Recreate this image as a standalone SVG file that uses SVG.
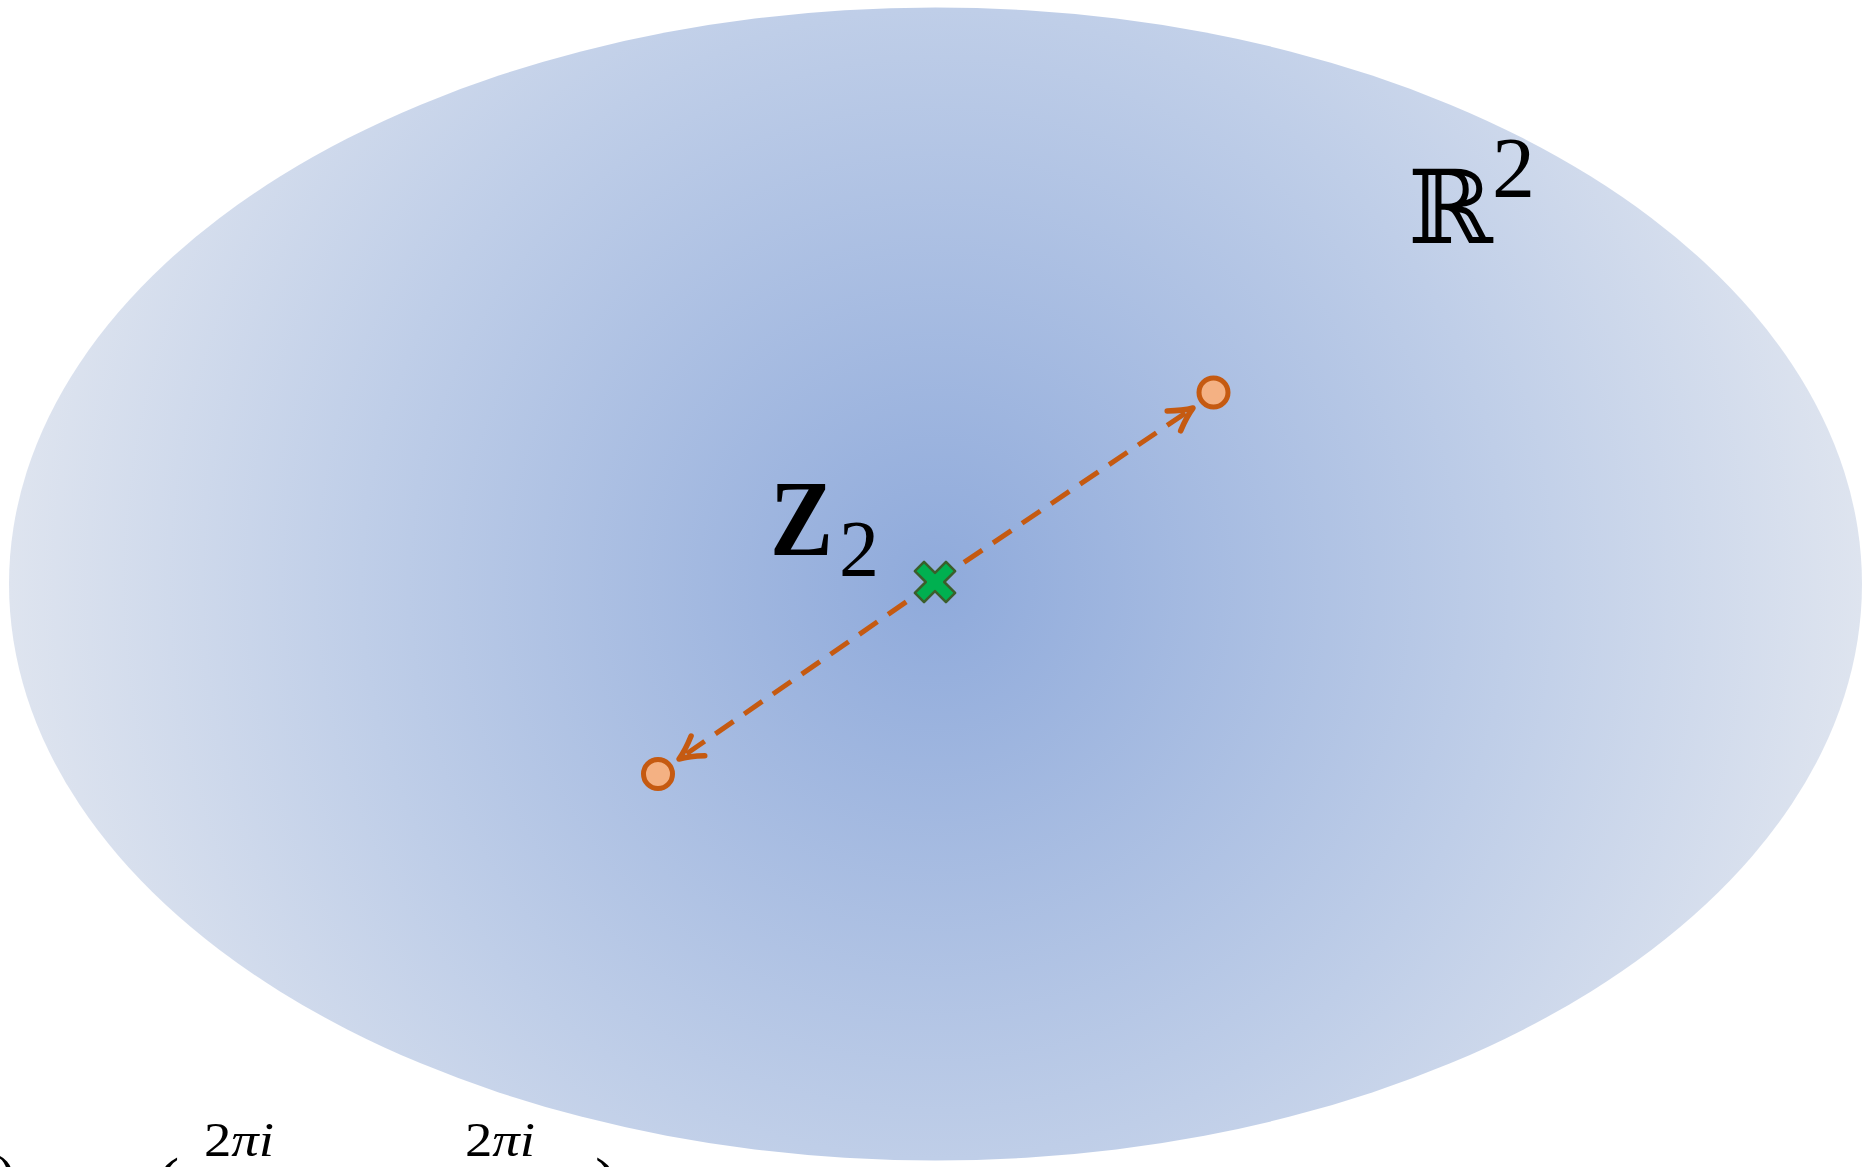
<svg xmlns="http://www.w3.org/2000/svg" width="1871" height="1167" viewBox="0 0 1871 1167">
<style>
.math{font-family:"Liberation Serif","DejaVu Serif",serif;fill:#000}
.dash{fill:none;stroke:#C55A11;stroke-width:5;stroke-dasharray:22 13}
.pt{fill:#F4B183;stroke:#C55A11;stroke-width:5}
</style>
<defs>
<radialGradient id="bg" gradientUnits="userSpaceOnUse" cx="935.5" cy="584" r="927">
<stop offset="0" stop-color="#8FAADB"/>
<stop offset="0.62" stop-color="#BFCEE8"/>
<stop offset="1" stop-color="#DEE4EF"/>
</radialGradient>
<marker id="arr" markerUnits="userSpaceOnUse" markerWidth="44" markerHeight="44" viewBox="-32 -22 44 44" refX="0" refY="0" orient="auto">
<path d="M -23 -12 Q -10 -3.5 0 0 Q -10 3.5 -23 12" fill="none" stroke="#C55A11" stroke-width="5.5" stroke-linecap="round" stroke-linejoin="round"/>
</marker>
</defs>
<rect width="1871" height="1167" fill="#FFFFFF"/>
<g id="plane">
<ellipse cx="935.5" cy="584" rx="926.5" ry="576.5" fill="url(#bg)"/>
</g>
<g id="label-R2">
<text class="math" x="1408" y="243" font-family="DejaVu Serif" font-size="102">ℝ</text>
<text class="math" x="1492" y="197" font-size="86">2</text>
</g>
<g id="label-Z2">
<text class="math" x="770" y="555" font-size="108" font-weight="bold" textLength="63" lengthAdjust="spacingAndGlyphs">Z</text>
<text class="math" x="839" y="576" font-size="80">2</text>
</g>
<g id="connectors">
<path class="dash" d="M 935 582 L 1193 408" marker-end="url(#arr)"/>
<path class="dash" d="M 935 582 L 679 759" marker-end="url(#arr)"/>
</g>
<g id="point-upper">
<circle class="pt" cx="1213.5" cy="392.5" r="14.5"/>
</g>
<g id="point-lower">
<circle class="pt" cx="658" cy="774" r="14.5"/>
</g>
<g id="origin-cross">
<polygon transform="translate(935 582) rotate(45)" points="-6.5,-22 6.5,-22 6.5,-6.5 22,-6.5 22,6.5 6.5,6.5 6.5,22 -6.5,22 -6.5,6.5 -22,6.5 -22,-6.5 -6.5,-6.5" fill="#00B050" stroke="#3B5E2B" stroke-width="2.5" stroke-linejoin="round"/>
</g>
<g id="bottom-formula">
<text class="math" x="-4" y="1196" font-size="60">)</text>
<text class="math" x="156" y="1206" font-size="70">(</text>
<text class="math" x="204" y="1156" font-size="49" textLength="70" lengthAdjust="spacingAndGlyphs">2<tspan font-style="italic">πi</tspan></text>
<text class="math" x="465" y="1156" font-size="49" textLength="70" lengthAdjust="spacingAndGlyphs">2<tspan font-style="italic">πi</tspan></text>
<text class="math" x="595" y="1206" font-size="70">)</text>
</g>
</svg>
